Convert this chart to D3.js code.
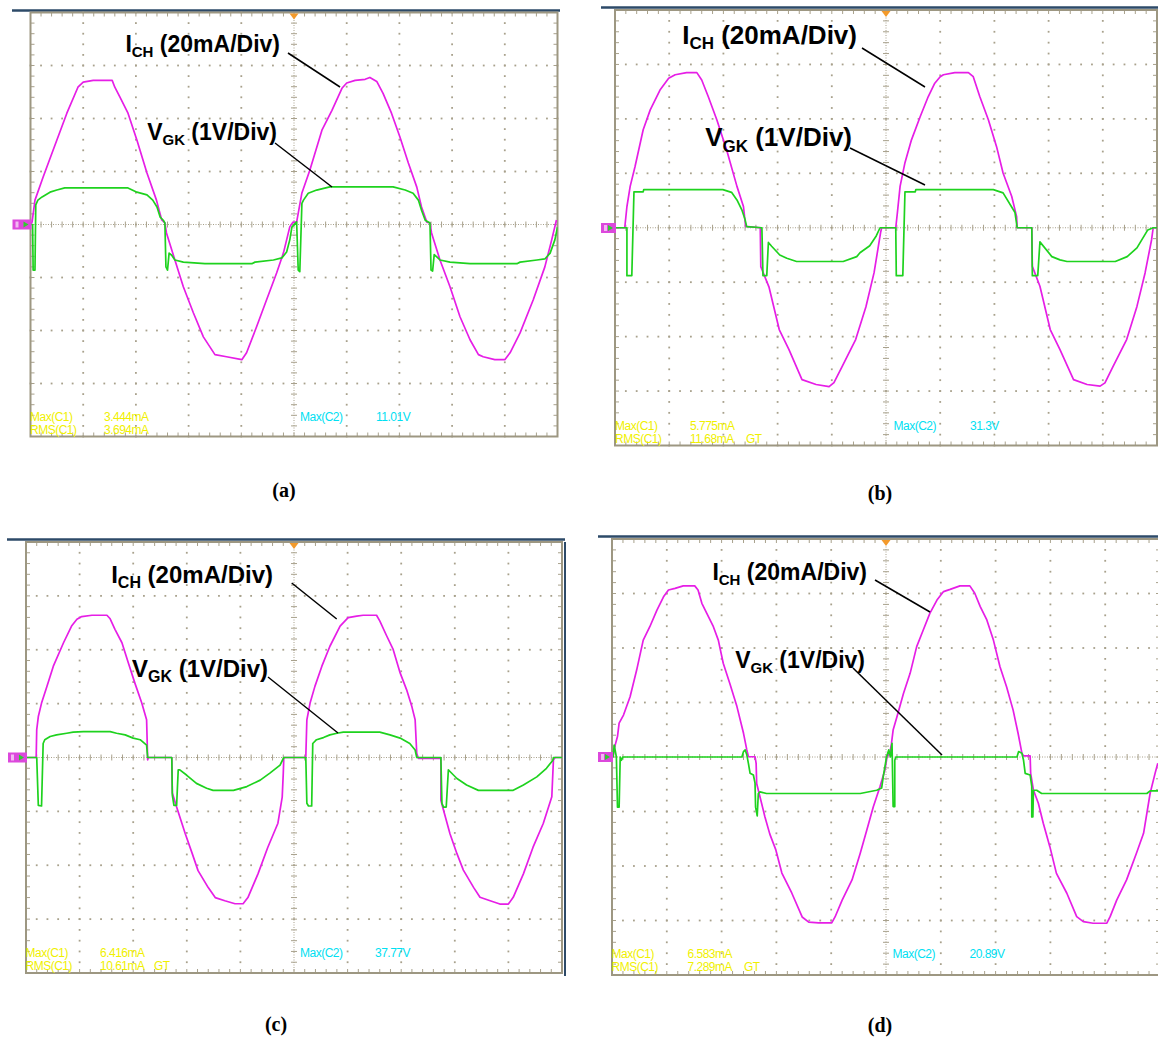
<!DOCTYPE html>
<html><head><meta charset="utf-8">
<script src="https://cdn.jsdelivr.net/npm/d3@7"></script>
<style>body{margin:0;background:#fff}</style>
</head><body><svg id="c" width="1158" height="1039"></svg>
<script>
// ---------- DATA (time in divisions, I in mA, V in volts) ----------
const ichA = [[0,0],[0.03,0.9],[0.085,9.2],[0.24,17.9],[0.43,28.1],[0.69,42.0],[0.90,51.8],[1.00,53.7],[1.19,54.4],[1.55,54.4],[1.60,51.8],[1.70,48.0],[1.85,42.0],[2.02,31.8],[2.21,19.4],[2.39,9.2],[2.49,1.7],[2.55,0.6],[2.58,-3.2],[2.74,-13.4],[2.90,-23.5],[3.09,-33.3],[3.28,-42.4],[3.50,-49.1],[3.72,-49.9],[4.01,-51.0],[4.10,-48.4],[4.29,-38.6],[4.48,-28.4],[4.67,-18.3],[4.80,-10.7],[4.92,-0.9],[4.98,0.9],[5.05,0.9],[5.15,11.9],[5.30,20.5],[5.53,35.6],[5.72,43.1],[5.91,51.4],[6.00,53.4],[6.16,54.4],[6.35,54.8],[6.44,55.5],[6.57,54.0],[6.69,49.5],[6.85,42.0],[7.01,33.0],[7.17,23.2],[7.33,14.1],[7.42,6.6],[7.52,0.9],[7.58,0.6],[7.61,-3.2],[7.77,-13.4],[7.96,-23.5],[8.15,-34.8],[8.34,-43.5],[8.50,-49.1],[8.59,-49.9],[8.81,-51.0],[9.00,-51.0],[9.10,-48.4],[9.29,-40.9],[9.54,-28.4],[9.76,-16.0],[9.89,-5.8],[9.98,1.7]];
const vgkA = [[0,0],[0.04,0],[0.05,-0.86],[0.085,-0.86],[0.10,0.37],[0.14,0.46],[0.22,0.52],[0.37,0.61],[0.50,0.65],[0.65,0.69],[1.85,0.69],[2.02,0.61],[2.21,0.56],[2.32,0.46],[2.40,0.33],[2.46,0.14],[2.52,0.08],[2.55,0.03],[2.57,-0.80],[2.60,-0.86],[2.63,-0.54],[2.68,-0.58],[2.74,-0.67],[2.90,-0.71],[3.31,-0.74],[4.20,-0.74],[4.26,-0.71],[4.61,-0.67],[4.77,-0.63],[4.86,-0.52],[4.92,-0.29],[4.96,-0.05],[5.05,0.05],[5.08,-0.86],[5.11,-0.89],[5.15,0.40],[5.18,0.46],[5.27,0.59],[5.43,0.65],[5.68,0.71],[6.88,0.71],[7.11,0.65],[7.26,0.59],[7.36,0.46],[7.42,0.27],[7.49,0.08],[7.58,0.03],[7.60,-0.86],[7.63,-0.88],[7.66,-0.57],[7.71,-0.61],[7.77,-0.67],[7.96,-0.71],[8.34,-0.74],[9.23,-0.74],[9.29,-0.71],[9.61,-0.67],[9.76,-0.65],[9.86,-0.54],[9.95,-0.29],[10.0,-0.05]];

const ichB = [[0,0],[0.18,0],[0.22,7.8],[0.28,15.2],[0.37,22.5],[0.52,36.0],[0.65,43.3],[0.83,50.6],[0.99,54.9],[1.11,56.2],[1.32,57.0],[1.51,57.0],[1.60,54.3],[1.72,48.2],[1.88,39.6],[2.06,28.6],[2.25,15.2],[2.37,7.8],[2.41,0.5],[2.68,0],[2.69,-14.3],[2.84,-21.7],[3.03,-37.4],[3.21,-44.8],[3.45,-55.8],[3.71,-57.6],[3.95,-58.4],[4.04,-56.9],[4.19,-51.0],[4.44,-41.1],[4.63,-29.0],[4.78,-16.5],[4.90,-1.8],[4.92,0],[5.18,0],[5.21,5.5],[5.26,15.2],[5.35,23.9],[5.47,32.3],[5.63,40.8],[5.78,48.2],[5.90,53.1],[6.00,55.5],[6.06,56.2],[6.27,57.0],[6.52,57.0],[6.61,55.5],[6.73,48.2],[6.89,39.6],[7.04,29.8],[7.16,20.1],[7.32,11.5],[7.41,4.1],[7.42,0],[7.69,0],[7.70,-14.2],[7.84,-21.5],[8.03,-37.4],[8.21,-44.8],[8.46,-55.8],[8.71,-57.6],[8.95,-58.2],[9.04,-57.0],[9.19,-50.9],[9.44,-41.1],[9.63,-28.9],[9.78,-16.6],[9.90,-4.4],[9.93,0],[10,0]];
const vgkB = [[0,0],[0.22,0],[0.22,-0.88],[0.31,-0.88],[0.35,0.66],[0.52,0.66],[0.53,0.70],[1.99,0.70],[2.15,0.65],[2.25,0.51],[2.34,0.33],[2.40,0.15],[2.43,0.02],[2.71,0],[2.73,-0.88],[2.80,-0.88],[2.83,-0.27],[2.89,-0.34],[3.04,-0.50],[3.17,-0.56],[3.35,-0.62],[4.21,-0.62],[4.46,-0.53],[4.52,-0.46],[4.70,-0.33],[4.82,-0.15],[4.89,0],[5.18,0],[5.19,-0.88],[5.31,-0.88],[5.35,0.66],[5.54,0.66],[5.55,0.70],[6.98,0.70],[7.16,0.64],[7.38,0.28],[7.42,0],[7.69,0],[7.70,-0.88],[7.80,-0.88],[7.84,-0.26],[8.06,-0.53],[8.21,-0.59],[8.34,-0.62],[9.23,-0.62],[9.45,-0.53],[9.63,-0.37],[9.83,-0.04],[9.93,0],[10,0]];

const ichC = [[0,0],[0.19,0],[0.20,10.3],[0.23,15.2],[0.29,20.2],[0.39,26.4],[0.51,33.9],[0.70,42.6],[0.85,48.8],[0.95,51.3],[1.04,52.3],[1.23,52.8],[1.51,52.8],[1.57,51.5],[1.66,47.6],[1.79,42.6],[1.91,35.1],[2.03,27.7],[2.16,20.2],[2.25,14.0],[2.27,-0.9],[2.28,0],[2.72,0],[2.73,-13.2],[2.81,-18.4],[2.97,-28.2],[3.10,-35.6],[3.21,-42.0],[3.40,-48.3],[3.53,-52.0],[3.71,-53.2],[3.90,-54.3],[4.05,-54.3],[4.14,-52.0],[4.33,-43.1],[4.51,-33.4],[4.70,-24.4],[4.78,-14.7],[4.80,-5.8],[4.81,0],[5.22,0],[5.24,14.0],[5.30,20.2],[5.39,26.4],[5.52,33.9],[5.67,41.3],[5.86,48.8],[6.01,51.9],[6.17,52.5],[6.29,52.8],[6.54,52.8],[6.60,50.7],[6.73,45.1],[6.85,40.1],[6.98,31.4],[7.10,25.2],[7.20,18.8],[7.26,14.0],[7.29,1.6],[7.32,-0.3],[7.74,-0.3],[7.74,-15.9],[7.79,-19.6],[7.91,-28.3],[8.04,-35.7],[8.16,-41.8],[8.35,-48.2],[8.47,-51.9],[8.66,-53.2],[8.84,-54.4],[9.00,-54.4],[9.09,-51.9],[9.28,-43.2],[9.46,-33.3],[9.65,-24.5],[9.81,-14.6],[9.84,-0.9],[9.87,0],[10,0]];
const vgkC = [[0,0],[0.20,0],[0.23,-0.89],[0.29,-0.90],[0.32,0.26],[0.35,0.33],[0.45,0.39],[0.57,0.42],[0.76,0.45],[0.88,0.47],[1.07,0.48],[1.57,0.48],[1.69,0.45],[1.85,0.42],[2.00,0.36],[2.13,0.33],[2.25,0.23],[2.27,0],[2.72,0],[2.73,-0.70],[2.76,-0.89],[2.81,-0.89],[2.84,-0.23],[2.87,-0.23],[3.00,-0.33],[3.18,-0.48],[3.37,-0.57],[3.49,-0.61],[3.87,-0.61],[4.12,-0.54],[4.37,-0.42],[4.55,-0.29],[4.74,-0.14],[4.81,0],[5.22,0],[5.24,-0.85],[5.27,-0.90],[5.33,-0.90],[5.35,0.26],[5.42,0.33],[5.55,0.37],[5.67,0.42],[5.80,0.45],[5.92,0.47],[6.60,0.47],[6.79,0.42],[6.98,0.36],[7.16,0.26],[7.26,0.14],[7.29,0],[7.74,0],[7.76,-0.85],[7.79,-0.92],[7.84,-0.92],[7.88,-0.23],[7.91,-0.26],[8.04,-0.39],[8.22,-0.51],[8.44,-0.61],[9.09,-0.61],[9.28,-0.51],[9.53,-0.36],[9.71,-0.20],[9.83,-0.05],[9.84,0],[10,0]];

const ichD = [[0,0],[0.02,0.1],[0.05,3.8],[0.10,7.5],[0.13,12.4],[0.21,15.4],[0.33,22.1],[0.45,31.9],[0.57,42.9],[0.69,47.8],[0.82,53.9],[0.94,58.8],[1.03,61.3],[1.15,61.9],[1.30,62.8],[1.51,62.8],[1.57,61.3],[1.64,56.4],[1.73,52.7],[1.85,47.8],[1.94,42.9],[2.03,34.4],[2.15,27.0],[2.28,18.5],[2.40,8.7],[2.46,2.6],[2.49,0.1],[2.61,0.1],[2.63,-2.3],[2.64,-9.7],[2.70,-14.6],[2.79,-21.9],[2.88,-28.3],[2.99,-34.1],[3.10,-42.6],[3.28,-49.9],[3.47,-58.7],[3.59,-60.6],[3.77,-60.9],[4.01,-60.9],[4.07,-58.7],[4.20,-52.5],[4.38,-45.1],[4.53,-35.3],[4.65,-26.8],[4.77,-18.2],[4.89,-10.9],[4.98,-4.8],[5.02,0.1],[5.07,1.4],[5.10,5.0],[5.13,9.9],[5.20,14.8],[5.32,23.4],[5.44,30.7],[5.56,40.5],[5.68,46.6],[5.80,52.7],[5.93,57.6],[6.05,60.7],[6.17,61.5],[6.35,62.8],[6.53,62.8],[6.62,60.1],[6.72,55.2],[6.84,50.3],[6.96,42.9],[7.08,33.1],[7.20,25.8],[7.32,17.2],[7.41,8.7],[7.48,1.4],[7.51,0.4],[7.63,0.4],[7.64,-6.0],[7.69,-12.1],[7.78,-17.0],[7.87,-24.3],[7.99,-32.9],[8.11,-42.7],[8.30,-50.0],[8.48,-58.6],[8.60,-60.4],[8.78,-61.0],[9.03,-61.0],[9.09,-58.6],[9.21,-52.5],[9.39,-45.1],[9.57,-35.3],[9.70,-28.0],[9.82,-13.3],[9.91,-6.0],[9.96,-2.3]];
const vgkD = [[0,0],[0.02,0],[0.04,0.22],[0.08,0],[0.10,-0.92],[0.13,-0.92],[0.15,0],[0.17,-0.06],[0.20,0],[2.37,0],[2.40,0.10],[2.43,0.13],[2.46,0.04],[2.49,-0.12],[2.52,-0.30],[2.58,-0.33],[2.61,-0.48],[2.62,-0.92],[2.65,-1.08],[2.67,-0.67],[2.70,-0.64],[2.82,-0.67],[4.53,-0.67],[4.83,-0.61],[4.92,-0.57],[4.95,-0.36],[4.98,-0.18],[5.01,0],[5.05,0.13],[5.08,0],[5.11,0.25],[5.13,-0.91],[5.16,-0.91],[5.16,-0.06],[5.18,0],[7.39,0],[7.42,0.10],[7.48,0.07],[7.51,-0.06],[7.54,-0.30],[7.63,-0.33],[7.66,-0.54],[7.66,-1.10],[7.68,-1.10],[7.69,-0.61],[7.75,-0.61],[7.84,-0.67],[9.76,-0.67],[9.82,-0.62],[10,-0.62]];

const panelLetters = ["(a)", "(b)", "(c)", "(d)"];
const ichLabel = ["I", "CH", " (20mA/Div)"];
const vgkLabel = ["V", "GK", " (1V/Div)"];
const measNames = ["Max(C1)", "RMS(C1)", "Max(C2)"];
const measA = ["3.444mA", "3.694mA", "11.01V", ""];
const measB = ["5.775mA", "11.68mA", "31.3V", "GT"];
const measC = ["6.416mA", "10.61mA", "37.77V", "GT"];
const measD = ["6.583mA", "7.289mA", "20.89V", "GT"];
const timeDomain = [0, 10];     // divisions
const currentDomain = [-80, 80]; // mA (20 mA/div, 8 div)
const voltageDomain = [-4, 4];   // V (1 V/div)

// ---------- LAYOUT ----------
const panels = [
  {ich: ichA, vgk: vgkA, meas: measA, letter: panelLetters[0],
   L:30.5, R:557.5, T:12.5, B:436.5, navy:[12,560,10.5], marker:[12.5,219.5],
   fs:23, sub:15, iEnd:[280,52], vEnd:[277,140],
   iLine:[288,53,340,87], vLine:[275,143,332,187],
   mx:[30,104,300,376,0], my:[420.5,433.5], lab:[284,497]},
  {ich: ichB, vgk: vgkB, meas: measB, letter: panelLetters[1],
   L:615, R:1157, T:10, B:445.5, navy:[601,1158,7.5], marker:[601,223],
   fs:26, sub:17, iEnd:[857,43.5], vEnd:[852,146],
   iLine:[862,48,925,87], vLine:[850,148,925,185],
   mx:[615,690,893.5,970,746], my:[429.5,442.5], lab:[880,500]},
  {ich: ichC, vgk: vgkC, meas: measC, letter: panelLetters[2],
   L:26, R:562, T:542, B:973, navy:[7,565,539.5], marker:[8,752.5], rightNavy:true,
   fs:24, sub:16, iEnd:[273,583], vEnd:[268,677],
   iLine:[291.7,583,336.7,619], vLine:[268,677,338,733],
   mx:[25.5,100,300,375,154], my:[956.5,969.5], lab:[276,1031]},
  {ich: ichD, vgk: vgkD, meas: measD, letter: panelLetters[3],
   L:612, R:1160, T:539, B:975, navy:[598,1158,536.5], marker:[598,752],
   fs:23, sub:15, iEnd:[867,580], vEnd:[865,668],
   iLine:[875,580,930,612], vLine:[853,668,942,755],
   mx:[611.5,687.5,892.5,969.5,744], my:[958,971], lab:[880,1032]}
];

const svg = d3.select("#c");
svg.append("rect").attr("width",1158).attr("height",1039).attr("fill","#fff");

const GRID = "#a8a18c", FRAME = "#9d9782", MAG = "#e61ee6", GRN = "#1ed21e";

panels.forEach(p => {
  const g = svg.append("g");
  const x = d3.scaleLinear().domain(timeDomain).range([p.L, p.R]);
  const yDiv = d3.scaleLinear().domain([-4, 4]).range([p.B, p.T]);
  const yI = d3.scaleLinear().domain(currentDomain).range([p.B, p.T]);
  const yV = d3.scaleLinear().domain(voltageDomain).range([p.B, p.T]);

  const cid = "clip" + p.letter.replace(/[()]/g,"");
  svg.append("clipPath").attr("id", cid).append("rect")
    .attr("x", p.L).attr("y", p.T).attr("width", Math.min(p.R,1158) - p.L).attr("height", p.B - p.T);

  g.append("line").attr("x1",p.navy[0]).attr("x2",p.navy[1]).attr("y1",p.navy[2]).attr("y2",p.navy[2])
    .attr("stroke","#2d4a68").attr("stroke-width",2.5);
  if (p.rightNavy) g.append("line").attr("x1",565).attr("x2",565).attr("y1",p.T).attr("y2",p.B+3)
    .attr("stroke","#2d4a68").attr("stroke-width",2);

  const minorT = d3.range(51).map(i => i / 5);
  const minorY = d3.range(41).map(i => -4 + i / 5);
  const pts = [];
  [1,2,3,4,6,7,8,9].forEach(i => minorY.forEach(v => pts.push([x(i), yDiv(v)])));
  [-3,-2,-1,1,2,3].forEach(j => minorT.forEach(t => pts.push([x(t), yDiv(j)])));
  g.append("g").selectAll("rect").data(pts).join("rect")
    .attr("x", d => d[0]-0.9).attr("y", d => d[1]-0.9).attr("width",1.8).attr("height",1.8).attr("fill",GRID);

  g.append("line").attr("x1",p.L).attr("x2",p.R).attr("y1",yDiv(0)).attr("y2",yDiv(0))
    .attr("stroke",GRID).attr("stroke-width",1).attr("stroke-dasharray","1,1.5");
  g.append("line").attr("x1",x(5)).attr("x2",x(5)).attr("y1",p.T).attr("y2",p.B)
    .attr("stroke",GRID).attr("stroke-width",1).attr("stroke-dasharray","1,1.5");
  g.append("g").selectAll("line").data(minorT).join("line")
    .attr("x1",d=>x(d)).attr("x2",d=>x(d)).attr("y1",yDiv(0)-3).attr("y2",yDiv(0)+3)
    .attr("stroke",GRID).attr("stroke-width",1);
  g.append("g").selectAll("line").data(minorY).join("line")
    .attr("y1",d=>yDiv(d)).attr("y2",d=>yDiv(d)).attr("x1",x(5)-3).attr("x2",x(5)+3)
    .attr("stroke",GRID).attr("stroke-width",1);
  g.append("g").selectAll("line").data(minorT).join("line")
    .attr("x1",d=>x(d)).attr("x2",d=>x(d)).attr("y1",p.B).attr("y2",p.B-4).attr("stroke",GRID);
  g.append("g").selectAll("line").data(minorT).join("line")
    .attr("x1",d=>x(d)).attr("x2",d=>x(d)).attr("y1",p.T).attr("y2",p.T+4).attr("stroke",GRID);
  g.append("g").selectAll("line").data(minorY).join("line")
    .attr("y1",d=>yDiv(d)).attr("y2",d=>yDiv(d)).attr("x1",p.L).attr("x2",p.L+4).attr("stroke",GRID);
  g.append("g").selectAll("line").data(minorY).join("line")
    .attr("y1",d=>yDiv(d)).attr("y2",d=>yDiv(d)).attr("x1",p.R).attr("x2",p.R-4).attr("stroke",GRID);
  g.append("rect").attr("x",p.L).attr("y",p.T).attr("width",p.R-p.L).attr("height",p.B-p.T)
    .attr("fill","none").attr("stroke",FRAME).attr("stroke-width",2);

  g.append("path").attr("d", `M${x(5)-4.5},${p.T+1}L${x(5)+4.5},${p.T+1}L${x(5)},${p.T+7}Z`).attr("fill","#f39a2b");

  // measurements
  const mt = g.append("g").attr("font-family","'Liberation Sans', Arial, sans-serif").attr("font-size",12)
    .attr("letter-spacing",-0.5);
  const Y = "#f0f000", C = "#00e0f2";
  mt.append("text").attr("x",p.mx[0]).attr("y",p.my[0]).attr("fill",Y).text(measNames[0]);
  mt.append("text").attr("x",p.mx[1]).attr("y",p.my[0]).attr("fill",Y).text(p.meas[0]);
  mt.append("text").attr("x",p.mx[0]).attr("y",p.my[1]).attr("fill",Y).text(measNames[1]);
  mt.append("text").attr("x",p.mx[1]).attr("y",p.my[1]).attr("fill",Y).text(p.meas[1]);
  if (p.meas[3]) mt.append("text").attr("x",p.mx[4]).attr("y",p.my[1]).attr("fill",Y).text(p.meas[3]);
  mt.append("text").attr("x",p.mx[2]).attr("y",p.my[0]).attr("fill",C).text(measNames[2]);
  mt.append("text").attr("x",p.mx[3]).attr("y",p.my[0]).attr("fill",C).text(p.meas[2]);

  // traces
  const tr = g.append("g").attr("clip-path",`url(#${cid})`);
  tr.append("path").datum(p.ich).attr("fill","none").attr("stroke",MAG).attr("stroke-width",1.7)
    .attr("stroke-linejoin","round")
    .attr("d", d3.line().x(d=>x(d[0])).y(d=>yI(d[1])));
  tr.append("path").datum(p.vgk).attr("fill","none").attr("stroke",GRN).attr("stroke-width",1.7)
    .attr("stroke-linejoin","round")
    .attr("d", d3.line().x(d=>x(d[0])).y(d=>yV(d[1])));

  // channel marker
  g.append("rect").attr("x",p.marker[0]).attr("y",p.marker[1]).attr("width",p.L-p.marker[0]+1).attr("height",10)
    .attr("fill","#dc48dc");
  g.append("path").attr("d",`M${p.L-7},${p.marker[1]+2}L${p.L-2},${p.marker[1]+5}L${p.L-7},${p.marker[1]+8}Z`).attr("fill","#2ecc2e");
  g.append("rect").attr("x",p.marker[0]+3).attr("y",p.marker[1]+2).attr("width",3).attr("height",6).attr("fill","#f2b8f2");

  // annotation labels
  const font = "'Liberation Sans', Arial, Helvetica, sans-serif";
  const addLbl = (parts, pos) => {
    const t = g.append("text").attr("x",pos[0]).attr("y",pos[1]).attr("text-anchor","end")
      .attr("font-family",font).attr("font-weight","bold").attr("font-size",p.fs).attr("fill","#000");
    t.append("tspan").text(parts[0]);
    t.append("tspan").attr("font-size",p.sub).attr("dy",p.fs*0.22).text(parts[1]);
    t.append("tspan").attr("dy",-p.fs*0.22).text(parts[2]);
  };
  addLbl(ichLabel, p.iEnd);
  addLbl(vgkLabel, p.vEnd);
  [p.iLine, p.vLine].forEach(l => g.append("line").attr("x1",l[0]).attr("y1",l[1]).attr("x2",l[2]).attr("y2",l[3])
    .attr("stroke","#000").attr("stroke-width",1.5));

  svg.append("text").attr("x",p.lab[0]).attr("y",p.lab[1]).attr("text-anchor","middle")
    .attr("font-family","'Liberation Serif','Times New Roman',serif").attr("font-weight","bold")
    .attr("font-size",20).text(p.letter);
});
</script></body></html>
